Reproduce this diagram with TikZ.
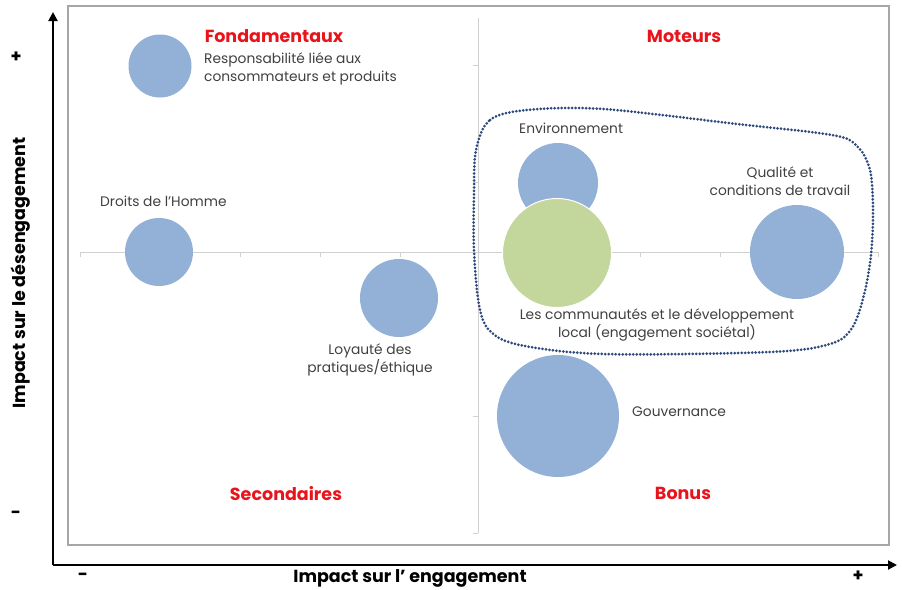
\documentclass[tikz,border=0pt]{standalone}
\usepackage{fontspec}
\setmainfont{Poppins}
\usetikzlibrary{arrows.meta}
\definecolor{bub}{HTML}{93B1D7}
\definecolor{grn}{HTML}{C3D69B}
\definecolor{lbl}{HTML}{404040}
\definecolor{redq}{HTML}{E8141B}
\definecolor{dotc}{HTML}{2E4A7D}
\definecolor{framec}{HTML}{A6A6A6}
\definecolor{axg}{HTML}{D0D0D0}
\begin{document}
\begin{tikzpicture}[x=1pt,y=-1pt,
  bubble/.style={circle, fill=bub, inner sep=0pt, draw=none},
  lab/.style={font=\fontsize{13.8}{18}\selectfont, text=lbl, align=center, inner sep=0pt},
  quad/.style={font=\fontsize{17.5}{20}\selectfont\bfseries, text=redq, inner sep=0pt},
  axlab/.style={font=\fontsize{17.5}{20}\selectfont\bfseries, text=black, inner sep=0pt},
  tick/.style={draw=axg, line width=0.8pt}]
\useasboundingbox (0,0) rectangle (902,589);
% frame
\draw[framec, line width=1.3pt] (68,6) rectangle (889,545);
% inner axes
\coordinate (hl) at (80,252);
\coordinate (hr) at (878,252);
\coordinate (vt) at (478,18);
\coordinate (vb) at (478,533);
\draw[axg, line width=1pt] (hl) -- (hr);
\draw[axg, line width=1pt] (vt) -- (vb);
\foreach \x in {80,160,240,320,400,560,640,720,800,878}
  \draw[tick] (\x,252) -- (\x,257);
\foreach \y in {65,182,416,533}
  \draw[tick] (478,\y) -- (473,\y);
% bubbles
\node[bubble, minimum size=63pt] (resp) at (160,66) {};
\node[bubble, minimum size=68pt] (droits) at (159,252) {};
\begin{scope}
  \clip (330,240) rectangle (470,336);
  \node[bubble, minimum size=78pt] (loy) at (399,298) {};
\end{scope}
\node[bubble, minimum size=80pt] (env) at (558,183) {};
\node[circle, fill=grn, draw=white, line width=1pt, inner sep=0pt, minimum size=109pt] (com) at (557,253) {};
\node[bubble, minimum size=94pt] (qual) at (797,252) {};
\node[bubble, minimum size=122pt] (gouv) at (558,416) {};
% dotted group outline
\draw[dotc, line width=3pt, line cap=round, dash pattern=on 0pt off 3.5pt]
  plot[smooth cycle, tension=0.55] coordinates {
  (476,150) (490,120) (527,110) (603,109) (737,124) (832,135) (857,146)
  (870,170) (873,210) (871,255) (864,295) (852,328) (830,344) (770,352) (603,354)
  (520,345) (490,331) (479,305) (474,250) (474,195)};
% quadrant titles
\node[quad] (fond) at (274,36) {Fondamentaux};
\node[quad] (mot) at (684,36) {Moteurs};
\node[quad] (sec) at (286,494) {Secondaires};
\node[quad] (bon) at (683,493) {Bonus};
% labels
\node[lab, anchor=west, align=left] (tresp) at (204,69) {Responsabilité liée aux\\consommateurs et produits};
\node[lab, anchor=west] (tdroits) at (100,201) {Droits de l’Homme};
\node[lab] (tloy) at (370,360) {Loyauté des\\pratiques/éthique};
\node[lab, anchor=west] (tenv) at (519,128) {Environnement};
\node[lab] (tqual) at (780,181) {Qualité et\\conditions de travail};
\node[lab] (tcom) at (657,325) {Les communautés et le développement\\local (engagement sociétal)};
\node[lab, anchor=west] (tgouv) at (632,412) {Gouvernance};
% black axes
\coordinate (o) at (53,565);
\coordinate (ytop) at (53,12);
\coordinate (xend) at (897,565);
\draw[line width=2pt, -{Triangle[width=9pt,length=9pt]}] (o) -- (ytop);
\draw[line width=2pt, -{Triangle[width=9pt,length=9pt]}] (o) -- (xend);
% axis labels
\node[axlab] (xl) at (410,578) {Impact sur l’ engagement};
\node[axlab, rotate=90] (yl) at (21,273) {Impact sur le désengagement};
\node[axlab] (yp) at (16,57) {+};
\node[axlab] (ym) at (16,515) {-};
\node[axlab] (xm) at (83,577) {-};
\node[axlab] (xp) at (858,576) {+};
\end{tikzpicture}
\end{document}
